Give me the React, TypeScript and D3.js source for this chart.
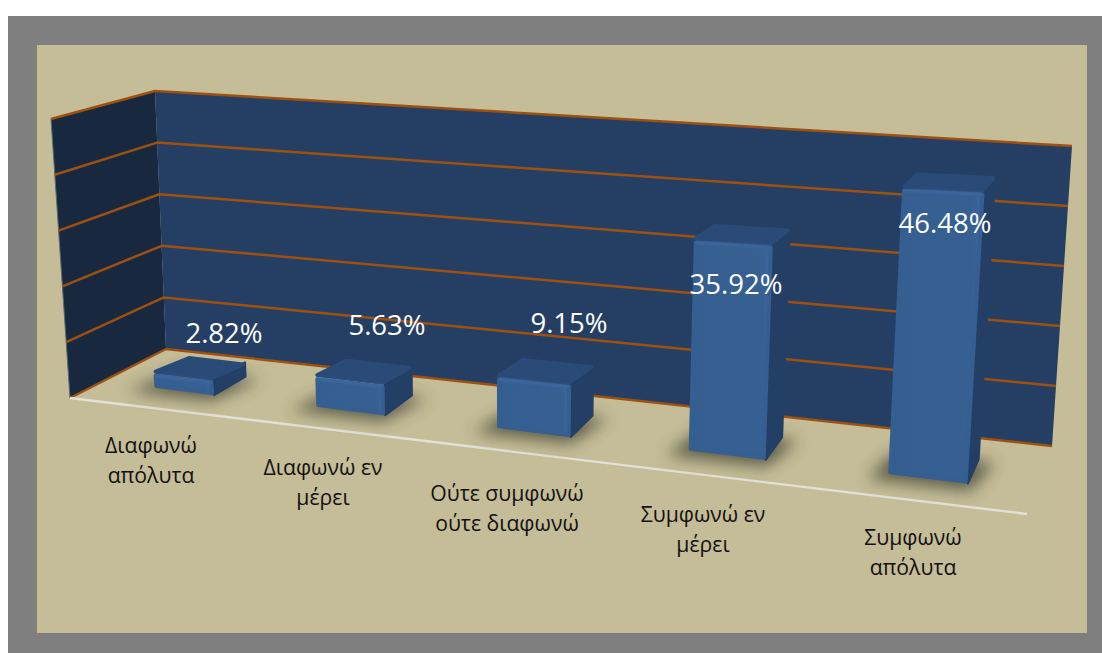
import React from "react";
import * as d3 from "d3";

// ---- data ----
const categoryLines: string[][] = [
  ["Διαφωνώ", "απόλυτα"],
  ["Διαφωνώ εν", "μέρει"],
  ["Ούτε συμφωνώ", "ούτε διαφωνώ"],
  ["Συμφωνώ εν", "μέρει"],
  ["Συμφωνώ", "απόλυτα"],
];
const values = [2.82, 5.63, 9.15, 35.92, 46.48];
const gridTicks = [10, 20, 30, 40, 50];
const valueMax = 50;

// ---- layout of the 3D box (pixels) ----
type P = [number, number];
const floorFrontLeft: P = [70, 398];
const floorFrontRight: P = [1027, 514];
const floorBackLeft: P = [166, 349];
const floorBackRight: P = [1052, 446];
const upFrontLeft: P = [-19, -279];
const upBackLeft: P = [-11, -258];
const upBackRight: P = [20, -300];
const upFrontRight: P = [21, -322];

const labelCentres = [151, 323, 507, 703, 913];
const labelBaselines = [453, 475, 501, 522, 545];
const valueLabelX = [224, 387, 569, 736, 945];
const valueLabelY = [343, 335, 333, 294, 233];

const lerp = (a: P, b: P, t: number): P => [a[0] + (b[0] - a[0]) * t, a[1] + (b[1] - a[1]) * t];

const yScale = d3.scaleLinear().domain([0, valueMax]).range([0, 1]);
// perspective foreshortening along the category axis
const tScale = d3.scalePow().exponent(1.13).domain([0, 1]).range([0.015, 0.995]);
const band = d3
  .scaleBand<number>()
  .domain(values.map((_, i) => i))
  .range([0, 1])
  .paddingInner(0.61)
  .paddingOuter(0.305);
// height in pixels of a full-scale bar, growing towards the viewer on the right
const barFullHeight = d3.scaleLinear().domain([0, 1]).range([250, 318]);

const depthFront = 0.33;
const depthBack = 0.69;

function floorPoint(t: number, d: number): P {
  return lerp(lerp(floorFrontLeft, floorFrontRight, t), lerp(floorBackLeft, floorBackRight, t), d);
}
function upVector(t: number, d: number): P {
  return lerp(lerp(upFrontLeft, upFrontRight, t), lerp(upBackLeft, upBackRight, t), d);
}
// t: 0..1 along categories, d: 0 front..1 back, v: value
function project(t: number, d: number, v: number): P {
  const base = floorPoint(t, d);
  const up = upVector(t, d);
  const k = yScale(v);
  return [base[0] + up[0] * k, base[1] + up[1] * k];
}
function barPoint(t: number, d: number, v: number): P {
  const base = floorPoint(t, d);
  const up = upVector(t, d);
  const k = yScale(v);
  const h = barFullHeight(t) * (1 - (d - depthFront) * 0.07);
  return [base[0] + up[0] * k, base[1] - h * k];
}

const poly = (pts: P[]) => d3.line()(pts)! + "Z";
// pull a face's corners inward so that a round-joined stroke of width 2r rounds them
function inset(pts: P[], r: number): P[] {
  const cx = d3.mean(pts, (p) => p[0])!;
  const cy = d3.mean(pts, (p) => p[1])!;
  return pts.map(([x, y]) => [x + Math.sign(cx - x) * r, y + Math.sign(cy - y) * r] as P);
}

const ORANGE = "#9E5010";

export default function App() {
  const backWall = [project(0, 1, 0), project(1, 1, 0), project(1, 1, valueMax), project(0, 1, valueMax)];
  const sideWall = [project(0, 0, 0), project(0, 1, 0), project(0, 1, valueMax), project(0, 0, valueMax)];

  return (
    <svg
      width={1102}
      height={653}
      viewBox="0 0 1102 653"
      style={{ position: "absolute", left: 0, top: 0, display: "block" }}
      fontFamily="'Open Sans', sans-serif"
    >
      <defs>
        <filter id="shadow" x="-50%" y="-100%" width="200%" height="300%">
          <feGaussianBlur stdDeviation="8" />
        </filter>
        <filter id="soft" x="-20%" y="-20%" width="140%" height="140%">
          <feGaussianBlur stdDeviation="0.9" />
        </filter>
        <linearGradient id="face" x1="0" x2="1" y1="0" y2="0">
          <stop offset="0" stopColor="#325A8B" />
          <stop offset="0.06" stopColor="#355E91" />
          <stop offset="0.88" stopColor="#365F92" />
          <stop offset="0.96" stopColor="#3A659A" />
          <stop offset="1" stopColor="#345C8D" />
        </linearGradient>
      </defs>

      <rect x={8} y={16} width={1094} height={637} fill="#7F7F7F" />
      <rect x={37} y={45} width={1050} height={588} fill="#C4BD97" />

      {/* walls */}
      <path d={poly(sideWall)} fill="#18293F" />
      <path d={poly(backWall)} fill="#243F63" />
      <line
        x1={project(0, 0, 0)[0]}
        y1={project(0, 0, 0)[1]}
        x2={project(0, 0, valueMax)[0]}
        y2={project(0, 0, valueMax)[1]}
        stroke="#5E6670"
        strokeWidth={1}
      />

      {/* gridlines */}
      {[0, ...gridTicks].map((tick) => {
        const a = project(0, 0, tick);
        const b = project(0, 1, tick);
        const c = project(1, 1, tick);
        return (
          <g key={tick} fill="none" stroke={ORANGE} strokeWidth={2.5}>
            <path d={d3.line()([a, b, c])!} strokeLinejoin="round" />
          </g>
        );
      })}

      {/* front axis line */}
      <line
        x1={floorFrontLeft[0]}
        y1={floorFrontLeft[1]}
        x2={floorFrontRight[0]}
        y2={floorFrontRight[1]}
        stroke="#E2E0D8"
        strokeWidth={2.4}
      />

      {/* bar shadows */}
      {values.map((_, i) => {
        const s0 = band(i)!;
        const s1 = s0 + band.bandwidth();
        const t0 = tScale(s0) - 0.018;
        const t1 = tScale(s1) + 0.006;
        const pts: P[] = [
          project(t0, depthFront - 0.1, 0),
          project(t1, depthFront - 0.1, 0),
          project(t1 + 0.012, depthBack - 0.02, 0),
          project(t0 + 0.012, depthBack - 0.02, 0),
        ];
        return <path key={i} d={poly(pts)} fill="#38382C" opacity={0.72} filter="url(#shadow)" />;
      })}

      {/* bars */}
      {values.map((v, i) => {
        const s0 = band(i)!;
        const s1 = s0 + band.bandwidth();
        const t0 = tScale(s0);
        const t1 = tScale(s1);
        const fbl = barPoint(t0, depthFront, 0);
        const fbr = barPoint(t1, depthFront, 0);
        const ftl = barPoint(t0, depthFront, v);
        const ftr = barPoint(t1, depthFront, v);
        const bbr = barPoint(t1, depthBack, 0);
        const btl = barPoint(t0, depthBack, v);
        const btr = barPoint(t1, depthBack, v);
        return (
          <g key={i} strokeLinejoin="round">
            <path d={poly([fbr, bbr, btr, ftr])} fill="#233F66" stroke="#233F66" strokeWidth={2} />
            <path
              d={poly(inset([ftl, ftr, btr, btl], 2))}
              fill="#2A4B77"
              stroke="#2A4B77"
              strokeWidth={4}
            />
            <path
              d={poly(inset([fbl, fbr, ftr, ftl], 2))}
              fill="url(#face)"
              stroke="#355E91"
              strokeWidth={4}
            />
            <line
              x1={ftl[0] + 2}
              y1={ftl[1] + 2}
              x2={ftr[0] - 2}
              y2={ftr[1] + 2}
              stroke="#3C689E"
              strokeWidth={3}
              filter="url(#soft)"
            />
          </g>
        );
      })}

      {/* value labels */}
      {values.map((v, i) => (
        <text
          key={i}
          x={valueLabelX[i]}
          y={valueLabelY[i]}
          fill="#FFFFFF"
          fontSize={27.5}
          textAnchor="middle"
        >
          {v.toFixed(2)}%
        </text>
      ))}

      {/* category labels */}
      {categoryLines.map((lines, i) => (
        <g key={i} fill="#111111" fontSize={21.2} textAnchor="middle">
          {lines.map((line, j) => (
            <text key={j} x={labelCentres[i]} y={labelBaselines[i] + j * 30}>
              {line}
            </text>
          ))}
        </g>
      ))}
    </svg>
  );
}
